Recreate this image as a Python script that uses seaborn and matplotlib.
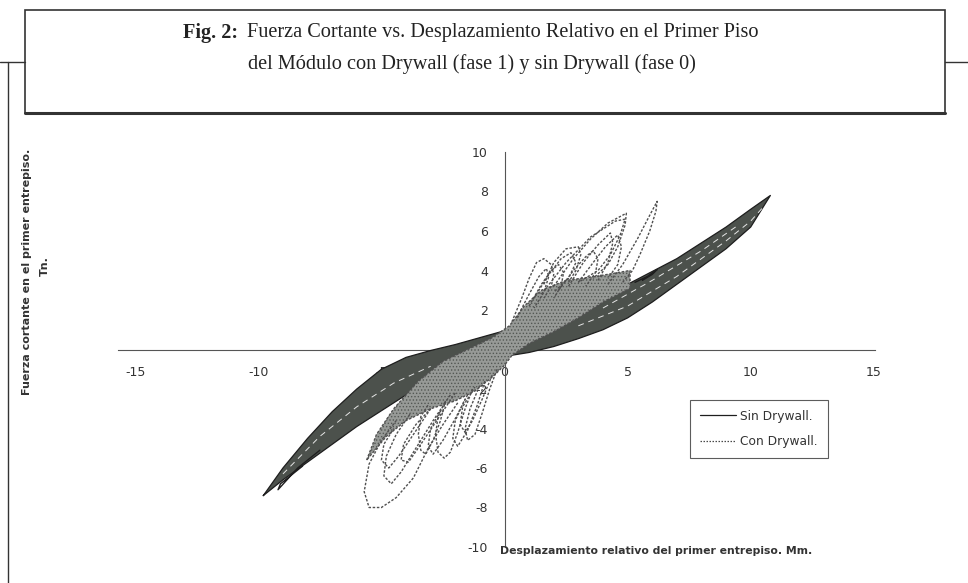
import numpy as np
import matplotlib
matplotlib.use("Agg")
import matplotlib.pyplot as plt
import seaborn as sns
from matplotlib.lines import Line2D
from matplotlib.patches import Rectangle

sns.set_style("white")
plt.rcParams['font.family'] = ['DejaVu Sans']
plt.rcParams['hatch.linewidth'] = 0.6

# ---- data ----
# Sin Drywall: outline of the band of loops (upper branch then lower branch)
sin_band_x = [-9.8, -9.0, -8.0, -7.0, -6.0, -5.0, -4.0, -3.0, -2.0, -1.0, 0.0, 1.0, 2.0, 3.0,
              4.0, 5.0, 6.0, 7.0, 8.0, 9.0, 10.0, 10.8,
              10.0, 9.0, 8.0, 7.0, 6.0, 5.0, 4.0, 3.0, 2.0, 1.0, 0.0, -1.0, -2.0, -3.0,
              -4.0, -5.0, -6.0, -7.0, -8.0, -9.0, -9.8]
sin_band_y = [-7.4, -6.0, -4.5, -3.15, -2.0, -1.0, -0.4, -0.05, 0.25, 0.6, 0.95, 1.35, 1.8, 2.3,
              2.8, 3.3, 3.95, 4.6, 5.4, 6.2, 7.1, 7.8,
              6.2, 5.1, 4.2, 3.3, 2.4, 1.6, 1.0, 0.55, 0.15, -0.15, -0.35, -0.65, -1.0, -1.6,
              -2.3, -3.1, -3.9, -4.8, -5.7, -6.6, -7.4]
# small overshoot loop near x = 6
sin_spike_x = [5.3, 5.8, 6.2, 6.0, 5.6]
sin_spike_y = [3.4, 3.7, 4.05, 3.8, 3.5]
# extra loop at negative end
sin_tail_x = [-7.5, -8.4, -9.2, -9.1, -8.2]
sin_tail_y = [-5.1, -6.0, -7.1, -6.8, -5.9]
# inner branches (light streaks inside the band)
sin_inner1_x = [3.0, 5.0, 7.0, 8.0, 9.0, 10.0, 10.5]
sin_inner1_y = [1.2, 2.2, 3.7, 4.6, 5.5, 6.5, 7.2]
sin_inner2_x = [4.0, 6.0, 8.0, 9.5]
sin_inner2_y = [2.1, 3.5, 5.0, 6.3]
sin_inner3_x = [-9.0, -7.5, -6.0, -4.5, -3.0]
sin_inner3_y = [-6.3, -4.4, -2.9, -1.7, -0.85]

# Con Drywall: dense core of loops
con_core_x = [-5.6, -5.2, -4.5, -3.5, -2.5, -1.5, -0.5, 0.2, 0.8, 1.5, 2.5, 3.7, 5.1,
              5.1, 4.0, 3.0, 2.0, 1.0, 0.3, 0.0, -0.5, -1.2, -2.0, -3.0, -4.0, -4.8, -5.6]
con_core_y = [-5.6, -4.3, -3.0, -1.6, -0.6, 0.0, 0.6, 1.2, 2.2, 3.0, 3.5, 3.7, 4.0,
              3.1, 2.4, 1.6, 0.9, 0.3, -0.3, -0.8, -1.4, -2.1, -2.6, -3.0, -3.6, -4.4, -5.6]
# Con Drywall: individual loops, positive side
con_loop_a_x = [4.2, 4.8, 5.4, 5.9, 6.2, 6.15, 5.9, 5.5, 5.2, 4.8]
con_loop_a_y = [3.3, 4.3, 5.6, 6.8, 7.5, 7.0, 6.0, 4.8, 4.0, 3.4]
con_loop_b_x = [2.0, 2.8, 3.5, 4.2, 4.95, 4.9, 4.6, 4.2, 3.6]
con_loop_b_y = [3.2, 4.6, 5.6, 6.4, 6.9, 6.3, 5.2, 4.3, 3.6]
con_loop_b2_x = [1.5, 2.5, 3.5, 4.5, 4.9, 4.7, 4.3, 3.8, 3.0]
con_loop_b2_y = [2.8, 4.4, 5.7, 6.5, 6.6, 5.8, 4.8, 4.0, 3.4]
con_loop_c_x = [1.6, 2.0, 2.5, 3.0, 3.1, 2.9, 2.6]
con_loop_c_y = [3.3, 4.4, 5.1, 5.2, 4.8, 4.0, 3.4]
con_loop_d_x = [0.3, 0.7, 1.0, 1.3, 1.6, 1.9, 2.0, 1.9, 1.6]
con_loop_d_y = [1.4, 2.6, 3.6, 4.4, 4.6, 4.3, 3.8, 3.2, 2.6]
con_loop_i_x = [2.2, 2.8, 3.3, 3.6, 3.8, 3.7, 3.3]
con_loop_i_y = [3.0, 4.0, 4.7, 5.0, 4.6, 3.9, 3.2]
con_loop_j_x = [2.6, 3.2, 3.8, 4.3, 4.4, 4.2, 3.8]
con_loop_j_y = [3.2, 4.4, 5.3, 5.9, 5.4, 4.4, 3.5]
con_loop_k_x = [1.0, 1.5, 1.9, 2.2, 2.4, 2.3, 2.0]
con_loop_k_y = [2.2, 3.3, 4.0, 4.3, 3.9, 3.2, 2.6]
con_loop_o_x = [0.5, 1.0, 1.4, 1.7, 1.8, 1.6, 1.2]
con_loop_o_y = [1.6, 2.8, 3.7, 4.1, 3.7, 2.9, 2.1]
con_loop_p_x = [3.0, 3.6, 4.1, 4.6, 4.75, 4.6, 4.2]
con_loop_p_y = [3.4, 4.4, 5.2, 5.8, 5.2, 4.3, 3.6]
con_loop_q_x = [1.2, 1.8, 2.3, 2.7, 2.9, 2.6, 2.0]
con_loop_q_y = [2.6, 3.8, 4.6, 4.9, 4.4, 3.6, 2.9]
# Con Drywall: individual loops, negative side
con_loop_e_x = [-1.9, -2.5, -3.1, -3.7, -4.4, -5.0, -5.5, -5.7, -5.5, -5.0, -4.4]
con_loop_e_y = [-2.7, -3.8, -5.0, -6.5, -7.5, -8.0, -8.0, -7.2, -5.8, -4.6, -3.6]
con_loop_f_x = [-1.3, -1.6, -1.9, -2.2, -2.45, -2.7, -2.8, -2.7, -2.4]
con_loop_f_y = [-2.0, -3.0, -4.2, -5.2, -5.5, -5.2, -4.3, -3.4, -2.6]
con_loop_g_x = [-2.4, -2.6, -2.9, -3.2, -3.4, -3.5, -3.4, -3.1]
con_loop_g_y = [-2.6, -3.6, -4.6, -5.3, -5.1, -4.3, -3.4, -2.8]
con_loop_h_x = [-0.3, -0.6, -0.9, -1.2, -1.5, -1.6, -1.4, -1.0]
con_loop_h_y = [-1.0, -2.0, -3.2, -4.3, -4.6, -4.0, -3.0, -1.8]
con_loop_l_x = [-2.2, -2.9, -3.6, -4.2, -4.6, -4.9, -4.8, -4.4, -3.8]
con_loop_l_y = [-2.3, -3.6, -5.0, -6.2, -6.8, -6.4, -5.4, -4.3, -3.2]
con_loop_m_x = [-0.8, -1.1, -1.5, -1.9, -2.1, -2.0, -1.6]
con_loop_m_y = [-1.6, -2.8, -4.1, -4.9, -4.5, -3.6, -2.5]
con_loop_n_x = [-2.0, -2.7, -3.4, -3.9, -4.2, -4.1, -3.6, -3.0]
con_loop_n_y = [-2.2, -3.5, -4.8, -5.7, -5.6, -4.8, -3.8, -3.0]
con_loop_r_x = [-0.5, -0.9, -1.3, -1.6, -1.8, -1.7, -1.2]
con_loop_r_y = [-1.3, -2.5, -3.6, -4.2, -3.8, -2.9, -1.9]
con_loop_s_x = [-3.0, -3.7, -4.3, -4.7, -5.0, -4.9, -4.5]
con_loop_s_y = [-3.0, -4.3, -5.4, -6.0, -5.6, -4.8, -4.0]
con_loop_t_x = [-1.5, -2.0, -2.5, -2.9, -3.1, -3.0, -2.6]
con_loop_t_y = [-2.3, -3.5, -4.6, -5.3, -4.9, -4.0, -3.1]

x_ticks = [-15, -10, -5, 0, 5, 10, 15]
y_ticks = [-10, -8, -6, -4, -2, 2, 4, 6, 8, 10]

con_loops = [(con_loop_a_x, con_loop_a_y), (con_loop_b_x, con_loop_b_y),
             (con_loop_b2_x, con_loop_b2_y), (con_loop_c_x, con_loop_c_y),
             (con_loop_d_x, con_loop_d_y), (con_loop_i_x, con_loop_i_y),
             (con_loop_j_x, con_loop_j_y), (con_loop_k_x, con_loop_k_y),
             (con_loop_o_x, con_loop_o_y), (con_loop_p_x, con_loop_p_y),
             (con_loop_q_x, con_loop_q_y),
             (con_loop_e_x, con_loop_e_y), (con_loop_f_x, con_loop_f_y),
             (con_loop_g_x, con_loop_g_y), (con_loop_h_x, con_loop_h_y),
             (con_loop_l_x, con_loop_l_y), (con_loop_m_x, con_loop_m_y),
             (con_loop_n_x, con_loop_n_y), (con_loop_r_x, con_loop_r_y),
             (con_loop_s_x, con_loop_s_y), (con_loop_t_x, con_loop_t_y),
             (con_core_x, con_core_y)]

# ---- figure ----
fig = plt.figure(figsize=(9.68, 5.83), dpi=100)
ax = fig.add_axes([118 / 968, 1 - 547 / 583, 757 / 968, 395 / 583])

band_col = '#4c514c'
ax.fill(sin_band_x, sin_band_y, color=band_col, lw=0, zorder=3)
sns.lineplot(x=sin_band_x, y=sin_band_y, sort=False, estimator=None, ax=ax,
             color='#1e1e1e', lw=0.9, zorder=4)
sns.lineplot(x=sin_spike_x, y=sin_spike_y, sort=False, estimator=None, ax=ax,
             color='#1e1e1e', lw=1.0, zorder=4)
sns.lineplot(x=sin_tail_x, y=sin_tail_y, sort=False, estimator=None, ax=ax,
             color='#1e1e1e', lw=1.0, zorder=4)
for ix, iy in [(sin_inner1_x, sin_inner1_y), (sin_inner2_x, sin_inner2_y),
               (sin_inner3_x, sin_inner3_y)]:
    sns.lineplot(x=ix, y=iy, sort=False, estimator=None, ax=ax,
                 color='#e6e6e6', lw=0.7, ls=(0, (6, 5)), zorder=4)

ax.fill(con_core_x, con_core_y, facecolor='#979a97', edgecolor='#545854',
        hatch='.....', lw=0, zorder=5)
for lx, ly in con_loops:
    sns.lineplot(x=lx, y=ly, sort=False, estimator=None, ax=ax,
                 color='#505050', lw=1.0, ls=(0, (1.8, 1.2)), zorder=6)

ax.set_xlim(-15.7, 15.05)
ax.set_ylim(-10, 10)
for side in ['top', 'right']:
    ax.spines[side].set_visible(False)
ax.spines['left'].set_position(('data', 0))
ax.spines['bottom'].set_position(('data', 0))
ax.spines['left'].set_color('#555555')
ax.spines['bottom'].set_color('#555555')
ax.spines['left'].set_bounds(-10, 10)
ax.set_xticks(x_ticks)
ax.set_yticks(y_ticks)
ax.set_xticklabels([str(v) for v in x_ticks])
ax.set_yticklabels([str(v) for v in y_ticks])
ax.tick_params(axis='both', direction='out', length=4, width=0.8, color='#555555',
               labelsize=9, labelcolor='#333333', pad=8)
ax.set_xlabel('')
ax.set_ylabel('')
ax.patch.set_alpha(0)

# legend
handles = [Line2D([], [], color='#1e1e1e', lw=0.9),
           Line2D([], [], color='#4a4a4a', lw=0.9, ls=(0, (1.2, 1.2)))]
leg = ax.legend(handles, ['Sin Drywall.', 'Con Drywall.'], loc='upper left',
                bbox_to_anchor=(690 / 968, 1 - 400 / 583), bbox_transform=fig.transFigure,
                borderaxespad=0, fancybox=False, frameon=True, fontsize=8.8,
                handlelength=3.0, handletextpad=0.3, borderpad=0.8, labelspacing=1.0)
leg.get_frame().set_edgecolor('#333333')
leg.get_frame().set_linewidth(0.8)
for t in leg.get_texts():
    t.set_color('#333333')

# axis titles
fig.text(500 / 968, 1 - 551 / 583, 'Desplazamiento relativo del primer entrepiso. Mm.',
         fontsize=7.8, fontweight='bold', color='#333333', ha='left', va='center')
fig.text(27 / 968, 1 - 272 / 583, 'Fuerza cortante en el primer entrepiso.',
         fontsize=8, fontweight='bold', color='#333333', rotation=90,
         ha='center', va='center')
fig.text(45 / 968, 1 - 266 / 583, 'Tn.', fontsize=8, fontweight='bold',
         color='#333333', rotation=90, ha='center', va='center')

# outer frame lines
fig.add_artist(Line2D([0, 25 / 968], [1 - 62 / 583] * 2, transform=fig.transFigure,
                      color='#333333', lw=1.0))
fig.add_artist(Line2D([945 / 968, 1], [1 - 62 / 583] * 2, transform=fig.transFigure,
                      color='#333333', lw=1.0))
fig.add_artist(Line2D([8 / 968] * 2, [0, 1 - 62 / 583], transform=fig.transFigure,
                      color='#333333', lw=1.0))

# title box
fig.add_artist(Rectangle((25 / 968, 1 - 113 / 583), 920 / 968, 103 / 583,
                         transform=fig.transFigure, facecolor='white',
                         edgecolor='#333333', lw=1.2))
fig.add_artist(Line2D([25 / 968, 945 / 968], [1 - 113 / 583] * 2, transform=fig.transFigure,
                      color='#333333', lw=2.2))
fig.text(183 / 968, 1 - 33 / 583, 'Fig. 2:', fontsize=14.6, fontweight='bold',
         family='Liberation Serif', color='#222222', ha='left', va='center')
fig.text(247 / 968, 1 - 33 / 583, 'Fuerza Cortante vs. Desplazamiento Relativo en el Primer Piso',
         fontsize=14.6, family='Liberation Serif', color='#222222', ha='left', va='center')
fig.text(472 / 968, 1 - 64 / 583, 'del Módulo con Drywall (fase 1) y sin Drywall (fase 0)',
         fontsize=14.6, family='Liberation Serif', color='#222222', ha='center', va='center')

fig.savefig('out.png', dpi=100)
